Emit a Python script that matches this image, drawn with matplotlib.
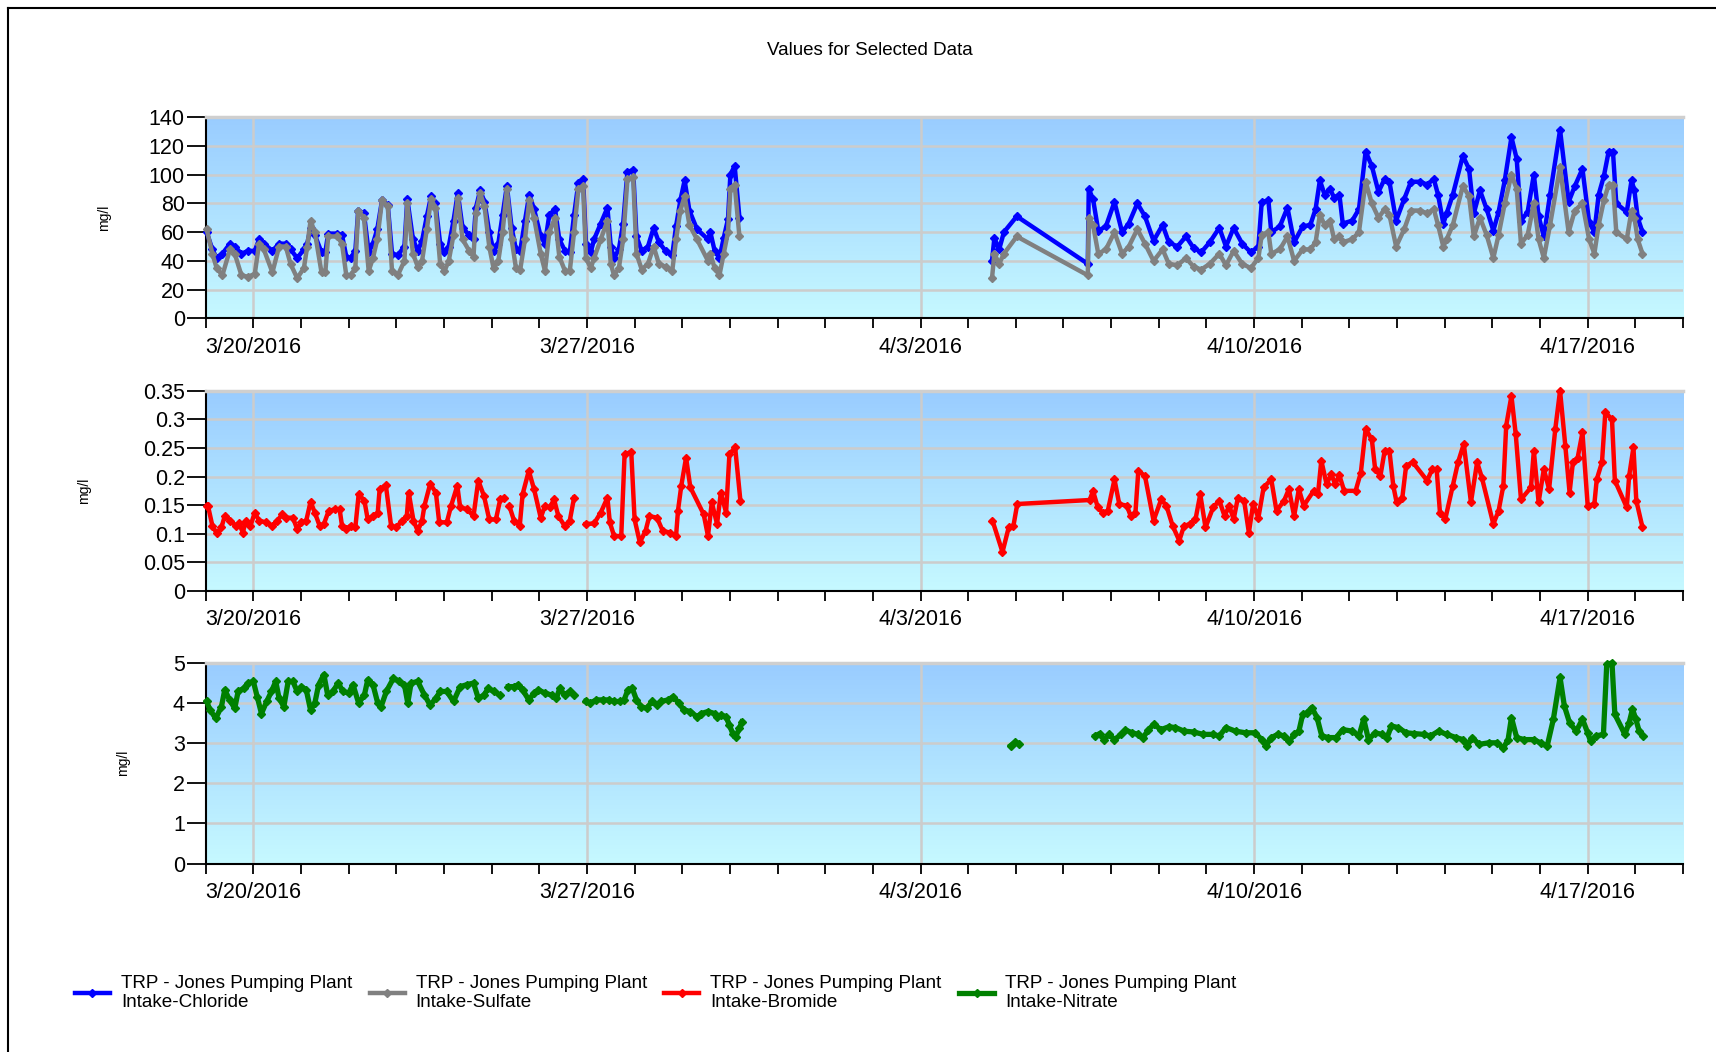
import numpy as np
import matplotlib
matplotlib.use('Agg')
import matplotlib.pyplot as plt
import matplotlib.dates as mdates
from matplotlib.colors import LinearSegmentedColormap
from matplotlib.lines import Line2D
from datetime import datetime

plt.rcParams['font.family'] = ['Liberation Sans', 'DejaVu Sans']

# times are days after 3/19/2016 00:00, segments separated by gaps in the record
# chloride + sulfate share sample times
t_a = [0.02,0.14,0.23,0.35,0.51,0.61,0.75,0.89,1.03,1.12,
       1.22,1.40,1.54,1.68,1.78,1.92,2.06,2.13,2.20,2.29,
       2.43,2.51,2.57,2.76,2.86,2.95,3.04,3.14,3.20,3.32,
       3.42,3.51,3.60,3.70,3.82,3.91,4.03,4.17,4.23,4.35,
       4.45,4.54,4.64,4.73,4.82,4.92,5.01,5.10,5.20,5.29,
       5.39,5.53,5.62,5.67,5.76,5.85,5.95,6.04,6.14,6.23,
       6.32,6.42,6.51,6.60,6.70,6.79,6.89,7.03,7.12,7.21,
       7.33,7.42,7.54,7.64,7.73,7.82,7.92,7.98,8.08,8.15,
       8.29,8.43,8.50,8.57,8.67,8.76,8.85,8.97,9.04,9.15,
       9.28,9.40,9.51,9.65,9.79,9.87,9.96,10.05,10.15,10.31,
       10.54,10.59,10.68,10.78,10.87,10.96,11.01,11.10,11.20]
chloride_a = [60,48,42,45,52,50,45,47,47,55, 52,47,52,52,48,42,48,52,63,58,
              46,46,59,59,58,43,42,47,75,73, 46,52,62,82,79,45,44,50,83,55,
              47,54,71,85,80,52,46,50,68,87, 63,58,55,77,89,81,60,47,52,72,
              92,63,48,47,68,86,76,57,52,72, 76,55,47,46,72,94,97,52,46,55,
              66,77,50,42,48,66,102,103,57,47, 50,63,53,47,44,64,82,96,75,62,
              55,60,47,42,56,69,100,106,70]
sulfate_a = [62,45,35,30,48,45,30,29,31,52, 48,32,50,50,38,28,35,50,68,60,
             32,32,57,57,52,30,30,35,75,70, 33,42,55,82,78,33,30,40,80,45,
             36,40,62,83,77,38,33,40,58,84, 55,47,43,73,87,78,50,35,40,60,
             90,55,35,34,55,82,70,45,33,60, 70,43,33,33,60,90,92,42,35,42,
             55,68,38,30,35,55,97,98,45,34, 38,50,38,36,33,55,75,85,65,55,
             40,45,35,30,45,60,90,93,57]

t_b = [16.50,16.55,16.65,16.75,17.02,18.51,18.53,18.62,18.73,18.89,
       19.07,19.23,19.37,19.55,19.71,19.89,20.08,20.21,20.39,20.57,
       20.73,20.89,21.07,21.27,21.41,21.57,21.75,21.93,22.09,22.16,
       22.30,22.36,22.54,22.70,22.84,23.02,23.18,23.29,23.38,23.48,
       23.59,23.68,23.79,23.86,24.06,24.20,24.34,24.47,24.61,24.74,
       24.84,24.98,25.15,25.29,25.49,25.63,25.77,25.86,25.97,26.04,
       26.17,26.38,26.51,26.61,26.74,26.88,27.02,27.13,27.26,27.40,
       27.51,27.60,27.74,27.87,27.97,28.08,28.21,28.42,28.60,28.73,
       28.89,29.03,29.14,29.23,29.34,29.44,29.53,29.60,29.82,29.92,
       29.98,30.05,30.15]
chloride_b = [40,56,48,60,71,38,90,83,61,64, 81,60,66,80,71,54,65,53,50,57,
              49,46,53,63,50,63,52,46,50,81, 82,60,64,77,53,64,65,76,96,86,
              90,84,86,66,68,76,116,106,88,97, 95,68,83,95,95,93,97,86,66,73,
              86,113,104,73,89,76,61,74,96,126, 111,68,74,100,71,57,86,131,81,92,
              104,67,60,86,99,116,116,80,74,96, 89,70,60]
sulfate_b = [28,45,38,45,57,30,70,65,45,48, 60,45,50,62,52,40,48,38,37,42,
             36,34,38,45,37,47,38,35,42,58, 60,45,48,57,40,48,48,53,72,65,
             68,55,57,53,55,60,95,80,70,76, 72,50,62,75,75,73,76,65,50,55,
             65,92,85,57,70,58,42,58,80,100, 90,52,58,80,55,42,65,105,60,75,
             80,55,45,65,82,93,93,60,55,75, 70,55,45]

# bromide
t_br1 = [0.02,0.05,0.14,0.23,0.33,0.40,0.51,0.63,0.70,0.78,
         0.84,0.94,1.03,1.12,1.26,1.40,1.50,1.61,1.69,1.83,
         1.92,2.01,2.11,2.20,2.29,2.39,2.48,2.58,2.72,2.81,
         2.86,2.95,3.04,3.14,3.21,3.33,3.40,3.51,3.61,3.65,
         3.78,3.89,4.00,4.12,4.22,4.26,4.36,4.45,4.54,4.59,
         4.71,4.83,4.90,5.06,5.15,5.28,5.34,5.48,5.62,5.72,
         5.84,5.95,6.09,6.18,6.25]
bromide_1 = [.149,.148,.114,.101,.111,.131,.123,.114,.118,.102,
             .123,.114,.137,.123,.120,.114,.123,.134,.128,.128,
             .108,.120,.123,.156,.137,.114,.117,.140,.143,.143,
             .114,.108,.114,.111,.169,.158,.125,.131,.137,.178,
             .185,.114,.111,.123,.131,.172,.123,.105,.123,.149,
             .187,.172,.120,.120,.149,.184,.146,.143,.131,.193,
             .166,.125,.125,.160,.163]
t_br2 = [6.37,6.47,6.59,6.65,6.78,6.89,7.03,7.12,7.22,7.31,7.40,7.53,7.64,7.73]
bromide_2 = [.149,.123,.114,.169,.210,.178,.128,.149,.146,.160,.131,.114,.123,.163]
t_br3 = [7.97,8.15,8.29,8.43,8.48,8.57,8.72,8.79,8.93,9.00,
         9.11,9.23,9.31,9.47,9.59,9.75,9.87,9.91,9.98,10.08,
         10.17,10.45,10.54,10.62,10.73,10.81,10.92,10.99,11.11,11.22]
bromide_3 = [.117,.118,.137,.163,.120,.096,.096,.239,.243,.125,
             .085,.105,.131,.128,.105,.102,.096,.140,.184,.233,
             .181,.134,.096,.155,.117,.172,.137,.239,.251,.158]
t_br4 = [16.51,16.72,16.85,16.95,17.03,18.55,18.62,18.72,18.82,18.93,
         19.07,19.17,19.33,19.41,19.51,19.57,19.71,19.89,20.05,20.16,
         20.29,20.43,20.53,20.66,20.77,20.87,20.98,21.14,21.27,21.38,
         21.48,21.57,21.66,21.79,21.89,21.98,22.09,22.20,22.36,22.47,
         22.63,22.73,22.84,22.94,23.04,23.25,23.34,23.41,23.52,23.62,
         23.70,23.79,23.89,24.13,24.24,24.34,24.47,24.54,24.65,24.74,
         24.84,24.92,24.99,25.11,25.19,25.33,25.63,25.74,25.83,25.90,
         26.01,26.17,26.28,26.40,26.55,26.68,26.78,27.02,27.13,27.23,
         27.29,27.40,27.49,27.60,27.81,27.87,27.97,28.08,28.19,28.32,
         28.42,28.53,28.62,28.69,28.79,28.89,29.00,29.14,29.19,29.30,
         29.37,29.51,29.57,29.82,29.87,29.96,30.02,30.15]
bromide_4 = [.123,.068,.111,.114,.152,.159,.175,.146,.137,.140,
             .195,.152,.149,.131,.137,.210,.201,.123,.160,.149,
             .114,.088,.114,.117,.125,.169,.111,.146,.158,.131,
             .149,.125,.163,.158,.102,.152,.128,.181,.195,.140,
             .158,.178,.131,.178,.149,.175,.169,.228,.187,.204,
             .187,.202,.175,.175,.207,.283,.265,.213,.201,.245,
             .245,.184,.155,.163,.219,.225,.193,.213,.213,.137,
             .125,.184,.225,.257,.155,.225,.198,.117,.140,.184,
             .289,.341,.274,.160,.181,.245,.155,.213,.178,.283,
             .350,.254,.172,.225,.233,.277,.149,.152,.195,.225,
             .312,.300,.193,.146,.201,.251,.158,.111]

# nitrate
t_no1 = [0.02,0.09,0.21,0.33,0.40,0.50,0.61,0.68,0.80,0.89,
         1.00,1.08,1.17,1.28,1.38,1.47,1.54,1.64,1.73,1.83,
         1.92,2.01,2.11,2.20,2.29,2.37,2.48,2.56,2.67,2.78,
         2.88,3.00,3.09,3.21,3.33,3.40,3.51,3.61,3.68,3.79,
         3.94,4.06,4.17,4.24,4.31,4.45,4.59,4.71,4.83,4.92,
         5.06,5.20,5.34,5.48,5.62,5.72,5.84,5.93,6.04,6.18]
nitrate_1 = [4.04,3.83,3.62,3.91,4.33,4.08,3.87,4.29,4.37,4.50,
             4.54,4.16,3.74,4.04,4.29,4.54,4.12,3.91,4.54,4.54,
             4.29,4.41,4.33,3.83,4.00,4.46,4.71,4.20,4.29,4.50,
             4.29,4.25,4.46,4.00,4.20,4.58,4.46,4.00,3.91,4.29,
             4.62,4.54,4.46,4.00,4.50,4.54,4.20,3.95,4.12,4.29,
             4.29,4.04,4.41,4.46,4.50,4.12,4.20,4.37,4.29,4.20]
t_no2 = [6.35,6.47,6.56,6.65,6.78,6.89,6.98,7.12,7.26,7.36,7.43,7.53,7.64,7.73]
nitrate_2 = [4.41,4.41,4.46,4.33,4.08,4.25,4.33,4.25,4.20,4.12,4.37,4.20,4.29,4.20]
t_no3 = [7.97,8.06,8.20,8.34,8.46,8.57,8.69,8.78,8.86,8.95,
         9.04,9.14,9.25,9.37,9.47,9.56,9.70,9.81,9.93,10.03,
         10.17,10.31,10.40,10.54,10.68,10.73,10.82,10.92,10.99,11.06,
         11.12,11.20,11.25]
nitrate_3 = [4.04,4.00,4.08,4.08,4.08,4.04,4.04,4.08,4.33,4.37,
             4.08,3.91,3.87,4.04,3.95,4.04,4.08,4.16,4.00,3.83,
             3.79,3.66,3.74,3.79,3.74,3.66,3.70,3.66,3.45,3.24,
             3.16,3.37,3.53]
t_no4 = [16.89,16.99,17.06]
nitrate_4 = [2.94,3.03,2.99]
t_no5 = [18.66,18.76,18.85,18.96,19.07,19.21,19.30,19.44,19.57,19.67,
         19.78,19.89,20.05,20.21,20.35,20.53,20.73,20.93,21.14,21.27,
         21.41,21.61,21.82,22.02,22.16,22.25,22.36,22.50,22.63,22.74,
         22.84,22.94,23.02,23.11,23.21,23.32,23.42,23.56,23.72,23.86,
         24.06,24.20,24.30,24.40,24.54,24.68,24.79,24.88,25.02,25.19,
         25.36,25.56,25.70,25.87,26.04,26.24,26.38,26.47,26.58,26.72,
         26.92,27.10,27.23,27.33,27.40,27.51,27.67,27.87,28.01,28.15,
         28.28,28.42,28.51,28.62,28.76,28.89,29.00,29.06,29.17,29.33,
         29.40,29.51,29.57,29.78,29.87,29.94,30.01,30.08,30.16]
nitrate_5 = [3.18,3.24,3.09,3.22,3.09,3.22,3.33,3.26,3.22,3.14,
             3.33,3.47,3.34,3.41,3.39,3.30,3.28,3.22,3.22,3.18,
             3.39,3.30,3.26,3.26,3.09,2.93,3.14,3.22,3.18,3.05,
             3.22,3.30,3.72,3.76,3.89,3.64,3.18,3.14,3.14,3.34,
             3.30,3.18,3.60,3.09,3.26,3.22,3.14,3.43,3.39,3.26,
             3.24,3.22,3.18,3.30,3.22,3.14,3.09,2.93,3.14,2.97,
             3.01,3.01,2.88,3.09,3.64,3.14,3.09,3.09,3.01,2.93,
             3.60,4.64,3.93,3.51,3.30,3.60,3.26,3.05,3.18,3.22,
             4.97,5.00,3.72,3.22,3.51,3.85,3.60,3.30,3.18]

labels = ['TRP - Jones Pumping Plant\nIntake-Chloride',
          'TRP - Jones Pumping Plant\nIntake-Sulfate',
          'TRP - Jones Pumping Plant\nIntake-Bromide',
          'TRP - Jones Pumping Plant\nIntake-Nitrate']

t0 = mdates.date2num(datetime(2016, 3, 19))


def join(*segs):
    out = []
    for k, s in enumerate(segs):
        if k:
            out.append(np.nan)
        out.extend(s)
    return np.array(out, dtype=float)


W, H = 1716, 1052
fig = plt.figure(figsize=(W / 100, H / 100), dpi=100)

bgmap = LinearSegmentedColormap.from_list('bg', ['#99ccff', '#c6f9ff'])
left, right = 205.7, 1683
boxes = [(117, 318.5), (390.7, 591), (663, 863.5)]
ylims = [(0, 140, 20), (0, 0.35, 0.05), (0, 5, 1)]
ylab_x = [104, 84, 123]

axes = []
for (top, bot), (y0, y1, ys), lx in zip(boxes, ylims, ylab_x):
    ax = fig.add_axes([left / W, 1 - bot / H, (right - left) / W, (bot - top) / H])
    ax.imshow(np.linspace(0, 1, 256).reshape(-1, 1), cmap=bgmap, aspect='auto',
              extent=[0, 1, 0, 1], transform=ax.transAxes, zorder=0)
    ax.xaxis_date()
    ax.set_xlim(t0, t0 + 31)
    ax.set_ylim(y0, y1)
    ax.set_yticks(np.arange(y0, y1 + ys / 2, ys))
    ax.yaxis.set_major_formatter(plt.FuncFormatter(lambda v, p: ('%g' % round(v, 3))))
    ax.xaxis.set_major_locator(mdates.WeekdayLocator(byweekday=mdates.SU))
    ax.xaxis.set_minor_locator(mdates.DayLocator())
    ax.xaxis.set_major_formatter(plt.FuncFormatter(
        lambda v, p: '%d/%d/%d' % (mdates.num2date(v).month, mdates.num2date(v).day, mdates.num2date(v).year)))
    ax.set_axisbelow(True)
    ax.grid(True, which='major', color='#cccccc', lw=1.8)
    ax.spines['right'].set_visible(False)
    ax.spines['top'].set_color('#cfcfcf')
    ax.spines['top'].set_linewidth(2.5)
    ax.spines['left'].set_linewidth(1.5)
    ax.spines['bottom'].set_linewidth(1.5)
    ax.tick_params(axis='x', which='both', length=7, width=1.3, pad=6, labelsize=15.5)
    ax.tick_params(axis='y', length=14, width=1.3, pad=1, labelsize=15.5)
    ax.set_ylabel('mg/l', fontsize=10, va='center')
    ax.yaxis.set_label_coords((lx - left) / (right - left), 0.5)
    axes.append(ax)

ax1, ax2, ax3 = axes
sty = dict(lw=3.2, marker='D', ms=4, clip_on=False, zorder=3)
l_cl, = ax1.plot(t0 + join(t_a, t_b), join(chloride_a, chloride_b), color='#0000ff', **sty)
l_so, = ax1.plot(t0 + join(t_a, t_b), join(sulfate_a, sulfate_b), color='#808080', **sty)
l_br, = ax2.plot(t0 + join(t_br1, t_br2, t_br3, t_br4),
                 join(bromide_1, bromide_2, bromide_3, bromide_4), color='#ff0000', **sty)
l_no, = ax3.plot(t0 + join(t_no1, t_no2, t_no3, t_no4, t_no5),
                 join(nitrate_1, nitrate_2, nitrate_3, nitrate_4, nitrate_5),
                 color='#008000', **dict(sty, lw=3.8))

fig.text(870 / W, 1 - 51 / H, 'Values for Selected Data', ha='center', va='center', fontsize=13.5)

fig.legend([l_cl, l_so, l_br, l_no], labels, loc='center left',
           bbox_to_anchor=(75 / W, 1 - 993 / H), ncol=4, frameon=False,
           fontsize=13.6, handlelength=1.85, handletextpad=0.58, columnspacing=0.93,
           borderaxespad=0, borderpad=0, numpoints=1, labelspacing=0.3)

# outer frame of the chart control
fig.add_artist(Line2D([8 / W, 8 / W], [0, 1 - 8 / H], transform=fig.transFigure, color='black', lw=1.5))
fig.add_artist(Line2D([8 / W, 1], [1 - 8 / H, 1 - 8 / H], transform=fig.transFigure, color='black', lw=1.5))

fig.savefig('out.png', dpi=100)
